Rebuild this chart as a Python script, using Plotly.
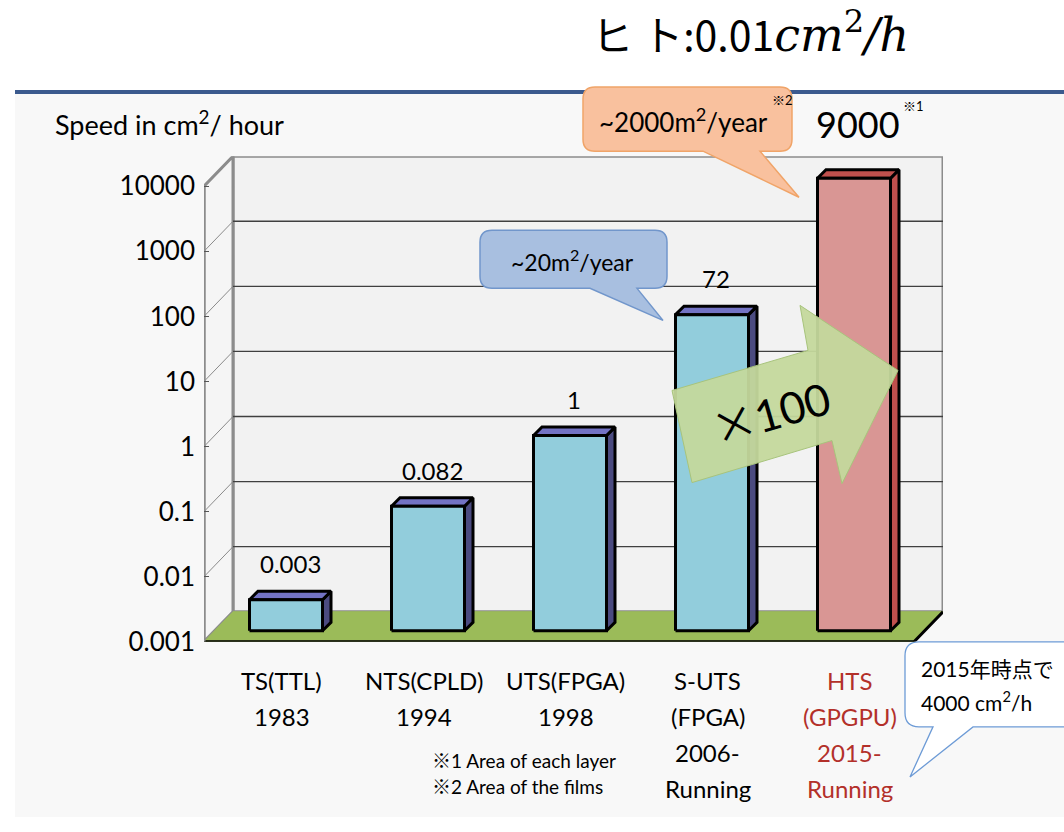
import math
import plotly.graph_objects as go

# ---- data -------------------------------------------------------------
categories = [
    ["TS(TTL)", "1983"],
    ["NTS(CPLD)", "1994"],
    ["UTS(FPGA)", "1998"],
    ["S-UTS", "(FPGA)", "2006-", "Running"],
    ["HTS", "(GPGPU)", "2015-", "Running"],
]
speeds = [0.003, 0.082, 1, 72, 9000]          # cm^2 / hour
value_labels = ["0.003", "0.082", "1", "72", "9000"]
y_tick_vals = [0.001, 0.01, 0.1, 1, 10, 100, 1000, 10000]
y_tick_text = ["0.001", "0.01", "0.1", "1", "10", "100", "1000", "10000"]

# ---- page / 3-D box geometry ------------------------------------------
W, H = 1064, 832
H_EFF = 816             # drawable page height used for paper-fraction placement
FONT = "Lato, 'Noto Sans CJK JP', sans-serif"
N = len(speeds)
CAT_PX = 142.0          # width of one category on the front plane
DEC_PX = 65.0           # height of one decade on the front plane
LEFT_PX, BOTTOM_PX = 204.0, 641.0
YMIN, YMAX = -3, 4      # log10 of axis min / max

DEPTH_X, DEPTH_Y = 29 / CAT_PX, 30 / DEC_PX      # wall depth (x units, decades)
GAP_X, GAP_Y = 11 / CAT_PX, 11 / DEC_PX          # bar front face offset
BAR_DX, BAR_DY = 8.5 / CAT_PX, 8.5 / DEC_PX      # bar depth
BAR_HALF = 36.5 / CAT_PX

x_range = [0, N + DEPTH_X]
y_range = [YMIN, YMAX + DEPTH_Y]
x_dom = [LEFT_PX / W, (LEFT_PX + x_range[1] * CAT_PX) / W]
y_dom = [1 - BOTTOM_PX / H_EFF,
         1 - (BOTTOM_PX - (y_range[1] - y_range[0]) * DEC_PX) / H_EFF]


def up(v, dec):
    """Shift a log-axis value up by `dec` decades."""
    return v * 10 ** dec


def poly(xs, ys, fill, line="black", width=3):
    return go.Scatter(x=xs + [xs[0]], y=ys + [ys[0]], mode="lines", fill="toself",
                      fillcolor=fill, line=dict(color=line, width=width),
                      hoverinfo="skip", showlegend=False)


def lines(xs, ys, color, width):
    return go.Scatter(x=xs, y=ys, mode="lines", line=dict(color=color, width=width),
                      hoverinfo="skip", showlegend=False, connectgaps=False)


lo, hi = 10 ** YMIN, 10 ** YMAX
fig = go.Figure()

# back wall, side wall
fig.add_trace(poly([DEPTH_X, N + DEPTH_X, N + DEPTH_X, DEPTH_X],
                   [up(lo, DEPTH_Y), up(lo, DEPTH_Y), up(hi, DEPTH_Y), up(hi, DEPTH_Y)],
                   "#f2f2f2", "#8c8c8c", 3))
fig.add_trace(poly([0, 0, DEPTH_X, DEPTH_X],
                   [lo, hi, up(hi, DEPTH_Y), up(lo, DEPTH_Y)],
                   "#f5f5f5", "#8c8c8c", 3))

# gridlines: diagonal on the side wall, horizontal on the back wall
gx, gy, sx, sy = [], [], [], []
for v in y_tick_vals[1:-1]:
    sx += [0, DEPTH_X, None]
    sy += [v, up(v, DEPTH_Y), None]
    gx += [DEPTH_X, N + DEPTH_X, None]
    gy += [up(v, DEPTH_Y), up(v, DEPTH_Y), None]
fig.add_trace(lines(sx, sy, "#8a8a8a", 1))
fig.add_trace(lines(gx, gy, "#404040", 1.3))

# floor
fig.add_trace(poly([0, DEPTH_X, N + DEPTH_X, N],
                   [lo, up(lo, DEPTH_Y), up(lo, DEPTH_Y), lo],
                   "#9bbb59", "#9bbb59", 1))
fig.add_trace(lines([0, N, N + DEPTH_X], [lo, lo, up(lo, DEPTH_Y)], "black", 3))
fig.add_trace(lines([0, 0], [lo, hi], "#8c8c8c", 3))

# 3-D bars
for i, v in enumerate(speeds):
    hts = i == N - 1
    front_c = "#d99694" if hts else "#92cddc"
    top_c = "#c0504d" if hts else "#7373c4"
    side_c = "#c0504d" if hts else "#4b4b80"
    cx = i + 0.5 + GAP_X
    xl, xr = cx - BAR_HALF, cx + BAR_HALF
    b0, t0 = up(lo, GAP_Y), up(v, GAP_Y)
    b1, t1 = up(b0, BAR_DY), up(t0, BAR_DY)
    fig.add_trace(poly([xr, xr + BAR_DX, xr + BAR_DX, xr], [b0, b1, t1, t0], side_c))
    fig.add_trace(poly([xl, xr, xr + BAR_DX, xl + BAR_DX], [t0, t0, t1, t1], top_c))
    fig.add_trace(poly([xl, xr, xr, xl], [b0, b0, t0, t0], front_c))

annotations = []
# value labels above the bars
for i, (v, lab) in enumerate(zip(speeds, value_labels)):
    hts = i == N - 1
    annotations.append(dict(
        x=i + 0.5 + GAP_X + BAR_DX / 2, y=math.log10(v) + GAP_Y + BAR_DY,
        xref="x", yref="y", text=lab, showarrow=False, yanchor="bottom",
        yshift=22 if hts else 11, font=dict(size=36 if hts else 24, color="black", family=FONT)))

# category labels, one line at a time
for i, cat in enumerate(categories):
    color = "#b3302a" if i == N - 1 else "black"
    for k, line in enumerate(cat):
        annotations.append(dict(
            x=i + 0.5 + GAP_X * 0.6, y=1 - (680 + 36 * k) / H_EFF, xref="x", yref="paper",
            yanchor="middle", text=line, showarrow=False,
            font=dict(size=24, color=color, family=FONT)))


def px(x, y):
    return f"{x / W:.5f},{1 - y / H_EFF:.5f}"


def callout(x0, y0, x1, y1, r, tail_a, tail_b, tip):
    """Rounded box with a pointer leaving its bottom edge."""
    p = [f"M{px(x0 + r, y0)}", f"L{px(x1 - r, y0)}", f"Q{px(x1, y0)} {px(x1, y0 + r)}",
         f"L{px(x1, y1 - r)}", f"Q{px(x1, y1)} {px(x1 - r, y1)}",
         f"L{px(tail_b, y1)}", f"L{px(*tip)}", f"L{px(tail_a, y1)}",
         f"L{px(x0 + r, y1)}", f"Q{px(x0, y1)} {px(x0, y1 - r)}",
         f"L{px(x0, y0 + r)}", f"Q{px(x0, y0)} {px(x0 + r, y0)}", "Z"]
    return " ".join(p)


shapes = [
    # slide background and header rule
    dict(type="rect", xref="paper", yref="paper", x0=15 / W, x1=1, y0=0, y1=1 - 94 / H_EFF,
         fillcolor="#f8f8f8", line=dict(width=0), layer="below"),
    dict(type="line", xref="paper", yref="paper", x0=15 / W, x1=1,
         y0=1 - 92 / H_EFF, y1=1 - 92 / H_EFF,
         line=dict(color="#3b5a8e", width=4), layer="below"),
    # x100 arrow
    dict(type="path", xref="paper", yref="paper", layer="above",
         path="M" + " L".join(px(a, b) for a, b in
                              [(672, 390), (808, 350), (800, 305), (898, 370),
                               (842, 483), (832, 440), (692, 482)]) + " Z",
         fillcolor="rgba(196,216,156,0.95)", line=dict(color="#a8c47c", width=1)),
    # callouts
    dict(type="path", xref="paper", yref="paper", layer="above",
         path=callout(480, 230, 667, 288, 12, 590, 637, (663, 320)),
         fillcolor="#a8bfe0", line=dict(color="#7196cb", width=1.5)),
    dict(type="path", xref="paper", yref="paper", layer="above",
         path=callout(583, 87, 792, 151, 12, 703, 760, (799, 197)),
         fillcolor="#f9c19e", line=dict(color="#f0a468", width=1.5)),
    dict(type="path", xref="paper", yref="paper", layer="above",
         path=callout(905, 641, 1080, 726, 14, 933, 973, (910, 776)),
         fillcolor="#ffffff", line=dict(color="#6d9bd6", width=1.3)),
]


def ptext(x, y, text, size, color="black", angle=0, xanchor="center", family=FONT):
    annotations.append(dict(x=x / W, y=1 - y / H_EFF, xref="paper", yref="paper", text=text,
                            showarrow=False, xanchor=xanchor, yanchor="middle",
                            textangle=angle, font=dict(size=size, color=color, family=family)))


ptext(53, 123, "Speed in cm<sup>2</sup>/ hour", 27, xanchor="left")
ptext(590, 32, "ヒ ト:0.01<span style='font-family:DejaVu Serif;font-size:46px'>"
      "<i>cm</i><sup>2</sup><i>/h</i></span>",
      41, xanchor="left", family="'Noto Sans CJK JP', " + FONT)
ptext(572, 260, "~20m<sup>2</sup>/year", 23)
ptext(683, 120, "~2000m<sup>2</sup>/year", 26)
ptext(782, 100, "※2", 13)
ptext(913, 106, "※1", 13)
ptext(770, 410, "<span style=\"font-family:'Noto Sans CJK JP'\">×</span>100", 44, angle=-16)
ptext(919, 668, "2015年時点で", 21, xanchor="left")
ptext(919, 700, "4000 cm<sup>2</sup>/h", 21, xanchor="left")
ptext(430, 760, "※1 Area of each layer", 19, xanchor="left")
ptext(430, 786, "※2 Area of the films", 19, xanchor="left")

fig.update_layout(
    width=W, height=H, autosize=False, margin=dict(l=0, r=0, t=0, b=0),
    paper_bgcolor="white", plot_bgcolor="rgba(0,0,0,0)",
    font=dict(family=FONT, color="black"),
    xaxis=dict(domain=x_dom, range=x_range, visible=False, fixedrange=True),
    yaxis=dict(domain=y_dom, range=y_range, type="log", tickvals=y_tick_vals,
               ticktext=y_tick_text, showgrid=False, zeroline=False, showline=False,
               ticks="inside", ticklen=5, tickwidth=1, tickcolor="#555555",
               ticklabelstandoff=8, tickfont=dict(size=26, color="black"),
               fixedrange=True),
    shapes=shapes, annotations=annotations, showlegend=False,
)

fig.write_html("out.html")
